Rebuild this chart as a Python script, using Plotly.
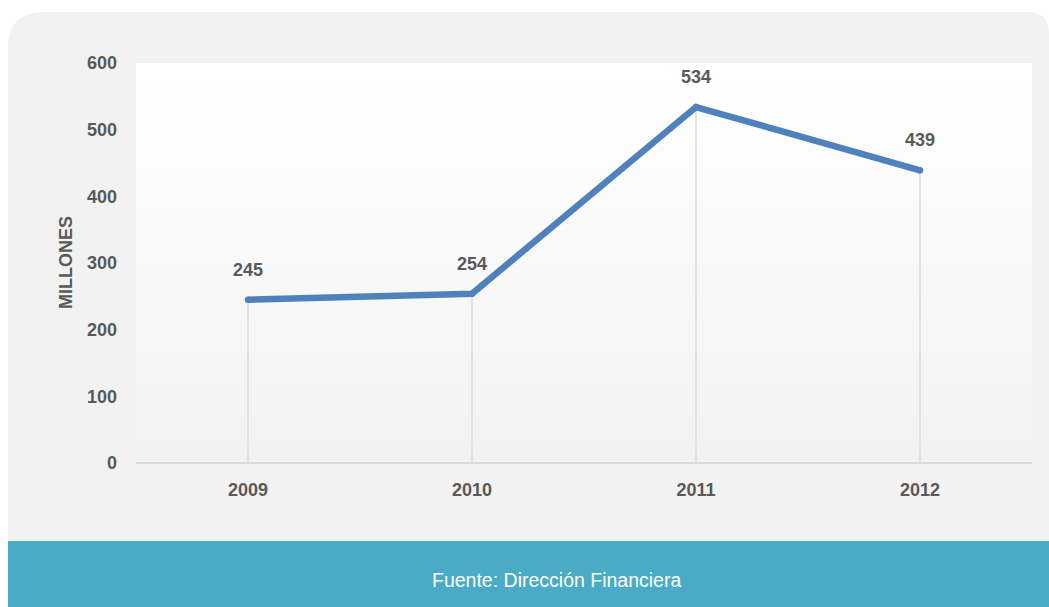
import plotly.graph_objects as go

years = ["2009", "2010", "2011", "2012"]
values = [245, 254, 534, 439]
y_ticks = [0, 100, 200, 300, 400, 500, 600]
y_title = "MILLONES"
source = "Fuente: Dirección Financiera"

W, H = 1049, 607
L, R, T, B = 136, 17, 63, 144
PW, PH = W - L - R, H - T - B

def px(x):
    return (x - L) / PW

def py(y):
    return (H - B - y) / PH

FONT = "Liberation Sans, Arial, sans-serif"
TXT = "#595959"
LINE = "#4f81bd"
CARD = "#f2f2f2"
TEAL = "#4aabc6"

fig = go.Figure()

# drop lines from points to axis
dx, dy = [], []
for c, v in zip(years, values):
    dx += [c, c, None]
    dy += [0, v, None]
fig.add_trace(go.Scatter(x=dx, y=dy, mode="lines", line=dict(color="#d9d9d9", width=1.5),
                         hoverinfo="skip", showlegend=False))

fig.add_trace(go.Scatter(x=years, y=values, mode="lines+markers",
                         line=dict(color=LINE, width=6.5),
                         marker=dict(color=LINE, size=6.5),
                         showlegend=False))

for i, v in enumerate(values):
    fig.add_annotation(x=i, y=v, text=str(v), showarrow=False, yshift=30,
                       xanchor="center", yanchor="middle",
                       font=dict(family=FONT, size=18, color=TXT, weight="bold"))

shapes = []
# card with rounded top corners
x0, x1, y0, y1 = 8, 1049, 12, 607
r1, r2 = 36, 22
path = (f"M {px(x0)},{py(y1)} L {px(x0)},{py(y0 + r1)} "
        f"Q {px(x0)},{py(y0)} {px(x0 + r1)},{py(y0)} "
        f"L {px(x1 - r2)},{py(y0)} Q {px(x1)},{py(y0)} {px(x1)},{py(y0 + r2)} "
        f"L {px(x1)},{py(y1)} Z")
shapes.append(dict(type="path", xref="paper", yref="paper", path=path,
                   fillcolor=CARD, line=dict(width=0), layer="below"))
# teal footer band
shapes.append(dict(type="rect", xref="paper", yref="paper", x0=px(8), x1=px(1049),
                   y0=py(607), y1=py(541), fillcolor=TEAL, line=dict(width=0), layer="below"))
# gradient plot background
n = 60
for i in range(n):
    t = i / (n - 1)
    g = round(255 - (255 - 242) * t)
    col = f"rgb({g},{g},{g})"
    shapes.append(dict(type="rect", xref="paper", yref="paper", x0=0, x1=1,
                       y0=max(0, 1 - (i + 1) / n - 0.002), y1=1 - i / n,
                       fillcolor=col, line=dict(width=0), layer="below"))

fig.add_annotation(xref="paper", yref="paper", x=px(556), y=py(580), text=source,
                   xanchor="center", yanchor="middle", showarrow=False,
                   font=dict(family=FONT, size=19.5, color="white"))
fig.add_annotation(xref="paper", yref="paper", x=px(66), y=py(263), text=y_title,
                   xanchor="center", yanchor="middle", textangle=-90, showarrow=False,
                   font=dict(family=FONT, size=18, color=TXT, weight="bold"))

fig.update_layout(
    width=W, height=H,
    margin=dict(l=L, r=R, t=T, b=B),
    paper_bgcolor="white", plot_bgcolor="rgba(0,0,0,0)",
    shapes=shapes,
    xaxis=dict(type="category", range=[-0.5, 3.5], showgrid=False, zeroline=False,
               showline=False, ticks="",
               tickfont=dict(family=FONT, size=18, color=TXT, weight="bold"),
               ticklabelstandoff=14),
    yaxis=dict(range=[0, 600], tickvals=y_ticks, showgrid=False, zeroline=True,
               zerolinecolor="#d9d9d9", zerolinewidth=2, showline=False, ticks="",
               tickfont=dict(family=FONT, size=18, color=TXT, weight="bold"),
               ticklabelstandoff=18),
    showlegend=False,
)

fig.write_html("out.html", config={"displayModeBar": False},
               post_script="document.body.style.margin='0';document.body.style.overflow='hidden';")
